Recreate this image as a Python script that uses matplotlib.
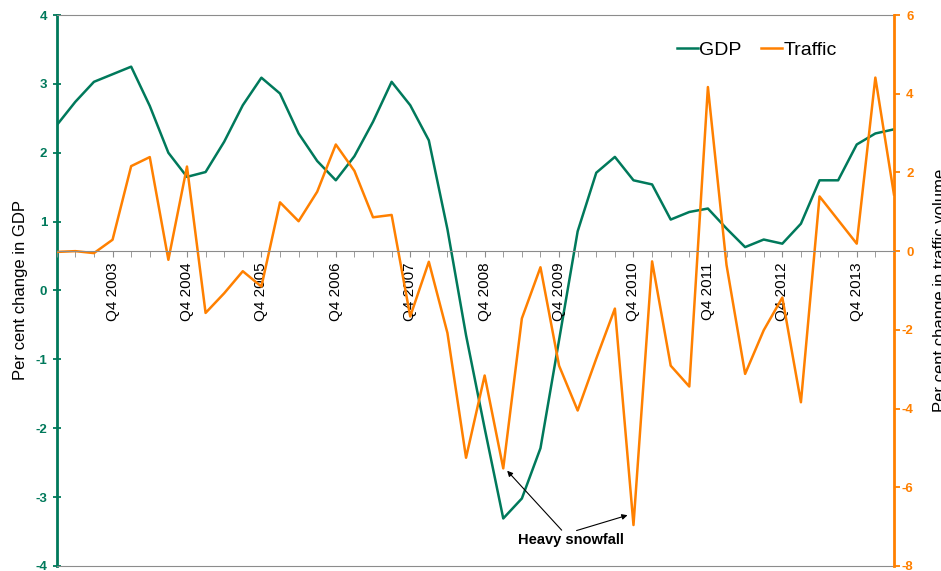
import numpy as np
import matplotlib.pyplot as plt

plt.rcParams['font.family'] = ['Liberation Sans', 'DejaVu Sans']
plt.rcParams['axes.unicode_minus'] = False

# quarterly series, Q1 2003 .. Q2 2014
quarters = [f"Q{q} {y}" for y in range(2003, 2015) for q in range(1, 5)][:46]
gdp = [2.40, 2.74, 3.03, 3.14, 3.25, 2.68, 2.00, 1.65, 1.72, 2.16,
       2.69, 3.09, 2.86, 2.28, 1.88, 1.60, 1.95, 2.45, 3.03, 2.69,
       2.18, 0.89, -0.65, -2.00, -3.31, -3.02, -2.29, -0.72, 0.86, 1.71,
       1.94, 1.60, 1.54, 1.03, 1.14, 1.19, 0.90, 0.63, 0.74, 0.68,
       0.97, 1.60, 1.60, 2.12, 2.28, 2.34]
traffic = [-0.02, 0.00, -0.05, 0.29, 2.16, 2.39, -0.22, 2.15, -1.57, -1.07,
           -0.51, -0.90, 1.24, 0.76, 1.51, 2.71, 2.04, 0.86, 0.92, -1.66,
           -0.27, -2.08, -5.25, -3.16, -5.52, -1.71, -0.41, -2.91, -4.05, -2.73,
           -1.46, -6.96, -0.26, -2.91, -3.44, 4.17, -0.35, -3.12, -2.01, -1.18,
           -3.84, 1.39, 0.79, 0.19, 4.41, 1.44]
tick_labels = ['Q4 2003', 'Q4 2004', 'Q4 2005', 'Q4 2006', 'Q4 2007', 'Q4 2008',
               'Q4 2009', 'Q4 2010', 'Q4 2011', 'Q4 2012', 'Q4 2013']
gdp_ticks = [-4, -3, -2, -1, 0, 1, 2, 3, 4]
traffic_ticks = [-8, -6, -4, -2, 0, 2, 4, 6]

teal = '#00795B'
orange = '#FF8000'
grey = '#8C8C8C'

x = np.arange(len(quarters))
tick_pos = [quarters.index(t) for t in tick_labels]

fig = plt.figure(figsize=(9.41, 5.71), dpi=100)
ax = fig.add_axes([0.0603, 0.0088, 0.8897, 0.9649])
ax2 = ax.twinx()

l1, = ax.plot(x, gdp, color=teal, linewidth=1.8, label='GDP')
l2, = ax2.plot(x, traffic, color=orange, linewidth=1.8, label='Traffic')

ax.set_xlim(0, len(quarters) - 1)
ax.set_ylim(-4, 4)
ax2.set_ylim(-8, 6)

# left axis
ax.set_yticks(gdp_ticks)
ax.tick_params(axis='y', direction='inout', length=6, width=1.3, color=teal,
               labelcolor=teal, labelsize=9.5, pad=4)
for t in ax.get_yticklabels():
    t.set_fontweight('bold')
ax.tick_params(axis='x', which='both', bottom=False, top=False,
               labelbottom=False)
ax.spines['left'].set_color(teal)
ax.spines['left'].set_linewidth(2)
ax.spines['right'].set_visible(False)
ax.spines['top'].set_color(grey)
ax.spines['bottom'].set_color(grey)
ax.set_ylabel('Per cent change in GDP', fontsize=12, labelpad=5)

# right axis
ax2.set_yticks(traffic_ticks)
ax2.tick_params(axis='y', direction='out', length=4, width=1.3, color=orange,
                labelcolor=orange, labelsize=9.5, pad=10)
for t in ax2.get_yticklabels():
    t.set_fontweight('bold')
    t.set_ha('right')
ax2.spines['right'].set_color(orange)
ax2.spines['right'].set_linewidth(2)
ax2.spines['left'].set_visible(False)
ax2.spines['top'].set_visible(False)
ax2.set_ylabel('Per cent change in traffic volume', fontsize=12, labelpad=14)

# category axis sits on traffic zero
ax2.xaxis.set_visible(True)
ax2.spines['bottom'].set_position(('data', 0))
ax2.spines['bottom'].set_color(grey)
ax2.set_xticks(tick_pos)
ax2.set_xticklabels(tick_labels)
ax2.set_xticks(x, minor=True)
ax2.tick_params(axis='x', which='both', direction='out', length=4, color=grey,
                labelsize=11, labelrotation=90, pad=4)

ax2.legend(handles=[l1, l2], loc='center', bbox_to_anchor=(0.836, 0.936),
           ncol=2, frameon=False, fontsize=14, handlelength=1.1,
           handletextpad=0.05, columnspacing=1.0)

ax2.text(27.63, -7.34, 'Heavy snowfall', fontsize=10.5, fontweight='bold',
         ha='center', va='center')
ax2.annotate('', xy=(24.21, -5.58), xytext=(27.14, -7.09),
             arrowprops=dict(arrowstyle='-|>', color='black', lw=0.8,
                             mutation_scale=8, shrinkA=0, shrinkB=0))
ax2.annotate('', xy=(30.68, -6.71), xytext=(27.94, -7.10),
             arrowprops=dict(arrowstyle='-|>', color='black', lw=0.8,
                             mutation_scale=8, shrinkA=0, shrinkB=0))

plt.savefig('out.png', dpi=100)
